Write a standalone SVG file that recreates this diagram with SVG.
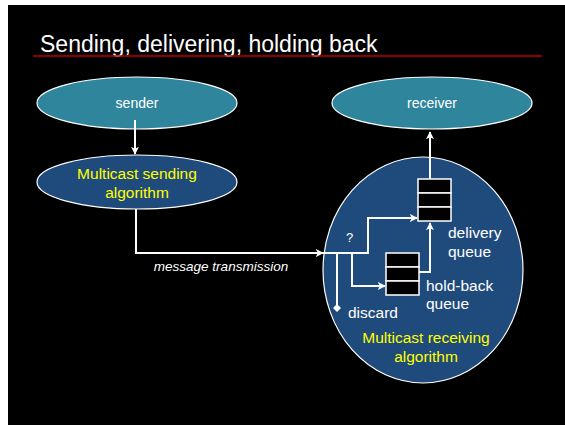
<svg xmlns="http://www.w3.org/2000/svg" width="565" height="425" viewBox="0 0 565 425">
  <style>
    .lbl { font-family: "Liberation Sans", Arial, sans-serif; fill: #ffffff; }
    .yel { font-family: "Liberation Sans", Arial, sans-serif; fill: #ffff00; font-size: 15.5px; text-anchor: middle; }
    .teal { fill: #2F869C; stroke: #ffffff; stroke-width: 1.2; }
    .navy { fill: #1F4A7C; stroke: #ffffff; stroke-width: 1.2; }
    .wire { fill: none; stroke: #ffffff; stroke-width: 2; }
    .cell { fill: #000000; stroke: #ffffff; stroke-width: 1.5; }
  </style>
  <defs>
    <marker id="arrow" viewBox="0 0 10 10" refX="9" refY="5" markerWidth="4" markerHeight="4" orient="auto">
      <path d="M0,0 L10,5 L0,10 L2.5,5 Z" fill="#ffffff"/>
    </marker>
    <marker id="dot" viewBox="0 0 10 10" refX="5" refY="5" markerWidth="4" markerHeight="4" orient="auto">
      <path d="M5,0 L10,5 L5,10 L0,5 Z" fill="#ffffff"/>
    </marker>
  </defs>

  <!-- page -->
  <rect x="0" y="0" width="565" height="425" fill="#ffffff"/>
  <rect x="8" y="5" width="557" height="420" fill="#000000"/>

  <!-- title -->
  <text class="lbl" x="40" y="52" font-size="23">Sending, delivering, holding back</text>
  <line x1="33" y1="56" x2="542" y2="56" stroke="#C00000" stroke-width="1.5"/>

  <!-- nodes -->
  <g id="sender">
    <ellipse class="teal" cx="137" cy="103" rx="100" ry="26"/>
    <text class="lbl" x="137" y="108" font-size="14" text-anchor="middle">sender</text>
  </g>

  <g id="multicast-sending">
    <ellipse class="navy" cx="137" cy="182" rx="100" ry="27"/>
    <text class="yel" x="137" y="179">Multicast sending</text>
    <text class="yel" x="137" y="198">algorithm</text>
  </g>

  <g id="receiver">
    <ellipse class="teal" cx="432" cy="103" rx="100" ry="26"/>
    <text class="lbl" x="432" y="108" font-size="14" text-anchor="middle">receiver</text>
  </g>

  <g id="multicast-receiving">
    <ellipse class="navy" cx="423" cy="270" rx="100" ry="113"/>
    <text class="yel" x="426" y="343">Multicast receiving</text>
    <text class="yel" x="426" y="362">algorithm</text>
  </g>

  <g id="delivery-queue">
    <rect class="cell" x="418" y="179" width="33" height="14"/>
    <rect class="cell" x="418" y="193" width="33" height="14"/>
    <rect class="cell" x="418" y="207" width="33" height="14"/>
    <text class="lbl" x="448" y="238" font-size="15.5">delivery</text>
    <text class="lbl" x="448" y="257" font-size="15.5">queue</text>
  </g>

  <g id="holdback-queue">
    <rect class="cell" x="386" y="253" width="33" height="14"/>
    <rect class="cell" x="386" y="267" width="33" height="14"/>
    <rect class="cell" x="386" y="281" width="33" height="14"/>
    <text class="lbl" x="426" y="291" font-size="15.5">hold-back</text>
    <text class="lbl" x="426" y="309" font-size="15.5">queue</text>
  </g>

  <g id="discard">
    <text class="lbl" x="348" y="318" font-size="15.5">discard</text>
  </g>

  <!-- connectors -->
  <g id="connectors">
    <line class="wire" x1="135" y1="120" x2="135" y2="154" marker-end="url(#arrow)"/>
    <polyline class="wire" points="136,209 136,253 323,253" marker-end="url(#arrow)"/>
    <polyline class="wire" points="323,253 368,253 368,218 417,218" marker-end="url(#arrow)"/>
    <polyline class="wire" points="352,253 352,286 385,286" marker-end="url(#arrow)"/>
    <polyline class="wire" points="337,253 337,308" marker-end="url(#dot)"/>
    <polyline class="wire" points="419,272 430,272 430,223" marker-end="url(#arrow)"/>
    <line class="wire" x1="430" y1="179" x2="430" y2="132" marker-end="url(#arrow)"/>
    <text class="lbl" x="346" y="242" font-size="13">?</text>
    <text class="lbl" x="221" y="271" font-size="13.5" font-style="italic" text-anchor="middle">message transmission</text>
  </g>
</svg>
